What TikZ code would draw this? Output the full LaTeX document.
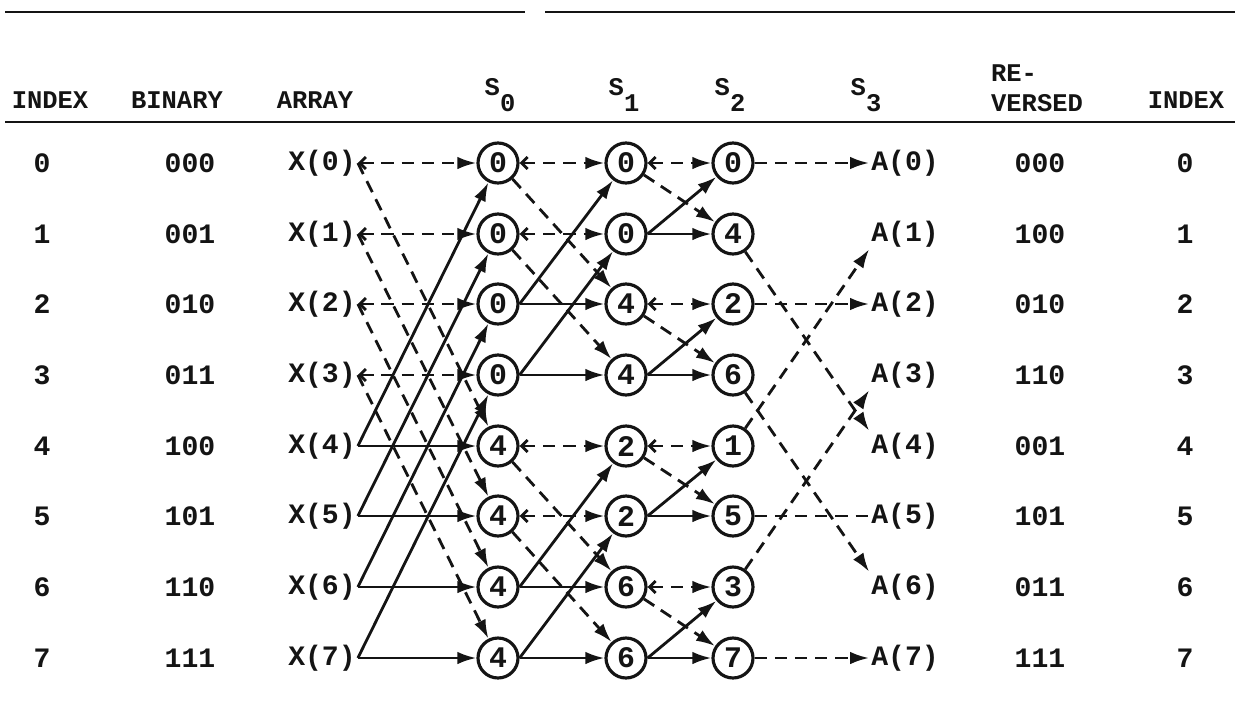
\documentclass[tikz,border=0pt]{standalone}
\usepackage{fontspec}
\setmonofont{Liberation Mono}
\usepackage{tikz}
\usetikzlibrary{arrows.meta}
\definecolor{graphink}{HTML}{141414}

\begin{document}
\begin{tikzpicture}[
  x=0.02cm, y=-0.02cm,
  font=\ttfamily\bfseries\fontsize{16pt}{18pt}\selectfont,
  text=graphink,
  draw=graphink,
  arr/.style={
    -{Latex[length=3.8mm,width=2.5mm]},
    line width=1.6pt
  },
  dsh/.style={
    arr,
    dash pattern=on 7pt off 4.5pt
  },
  back/.style={
    dsh,
    {Straight Barb[length=1.2mm,width=2.4mm]}-{Latex[length=3.8mm,width=2.5mm]}
  },
  stagenode/.style={
    circle,
    draw=graphink,
    line width=1.8pt,
    minimum size=0.80cm,
    inner sep=0pt,
    font=\ttfamily\bfseries\fontsize{17pt}{18pt}\selectfont
  },
  label/.style={inner sep=1pt},
  head/.style={
    inner sep=1pt,
    font=\ttfamily\bfseries\fontsize{14.5pt}{17pt}\selectfont
  },
  rule/.style={line width=1.6pt}
]
\useasboundingbox (0,0) rectangle (1238,704);

% ------------------------------------------------------------
% Table head
% ------------------------------------------------------------

\draw[rule] (5,12) -- (525,12);
\draw[rule] (545,12) -- (1235,12);
\draw[rule] (5,122) -- (1235,122);

\node[head] (hindex) at (50,100) {INDEX};
\node[head] (hbinary) at (177,100) {BINARY};
\node[head] (harray) at (315,100) {ARRAY};
\node[head] (hs0) at (500,95) {S\raisebox{-1.2ex}{0}};
\node[head] (hs1) at (624,95) {S\raisebox{-1.2ex}{1}};
\node[head] (hs2) at (730,95) {S\raisebox{-1.2ex}{2}};
\node[head] (hs3) at (866,95) {S\raisebox{-1.2ex}{3}};
\node[head,align=left] (hrev) at (1037,88) {RE-\\VERSED};
\node[head] (hindexr) at (1186,100) {INDEX};

% ------------------------------------------------------------
% Rows: index, binary, array, stages, output, reversed
% ------------------------------------------------------------

\foreach \r/\y/\b/\u/\v/\w/\rv in {
  0/163/000/0/0/0/000,
  1/234/001/0/0/4/100,
  2/304/010/0/4/2/010,
  3/375/011/0/4/6/110,
  4/446/100/4/2/1/001,
  5/516/101/4/2/5/101,
  6/587/110/4/6/3/011,
  7/658/111/4/6/7/111}{
  \node[label] (idx\r) at (42,\y) {\r};
  \node[label] (bin\r) at (190,\y) {\b};
  \node[label] (x\r) at (322,\y) {X(\r)};
  \node[stagenode] (s0\r) at (498,\y) {\u};
  \node[stagenode] (s1\r) at (626,\y) {\v};
  \node[stagenode] (s2\r) at (733,\y) {\w};
  \node[label] (a\r) at (905,\y) {A(\r)};
  \node[label] (rev\r) at (1040,\y) {\rv};
  \node[label] (idxr\r) at (1185,\y) {\r};
}

% ------------------------------------------------------------
% Stage S0: span 4
% ------------------------------------------------------------

\foreach \k/\m in {0/4,1/5,2/6,3/7}{
  \draw[back] (x\k.east) -- (s0\k);
  \draw[dsh] (x\k.east) -- (s0\m);
  \draw[arr] (x\m.east) -- (s0\k);
  \draw[arr] (x\m.east) -- (s0\m);
}

% Stage S1: span 2, stage S2: span 1
\foreach \p/\q/\a/\b in {0/1/0/2,0/1/1/3,0/1/4/6,0/1/5/7,
                         1/2/0/1,1/2/2/3,1/2/4/5,1/2/6/7}{
  \draw[back] (s\p\a) -- (s\q\a);
  \draw[dsh] (s\p\a) -- (s\q\b);
  \draw[arr] (s\p\b.east) -- (s\q\a);
  \draw[arr] (s\p\b.east) -- (s\q\b);
}

% ------------------------------------------------------------
% Stage S3: bit reversal into the output array
% ------------------------------------------------------------

\draw[dsh] (s20) -- (a0);
\draw[dsh] (s22) -- (a2);
\draw[dsh,-] (s25) -- (a5);
\draw[dsh] (s27) -- (a7);

\foreach \r/\k/\side in {1/4/north west,3/6/north west,
                         4/1/south west,6/3/south west}{
  \draw[dsh] (s2\r) -- (a\k.\side);
}
\end{tikzpicture}
\end{document}
